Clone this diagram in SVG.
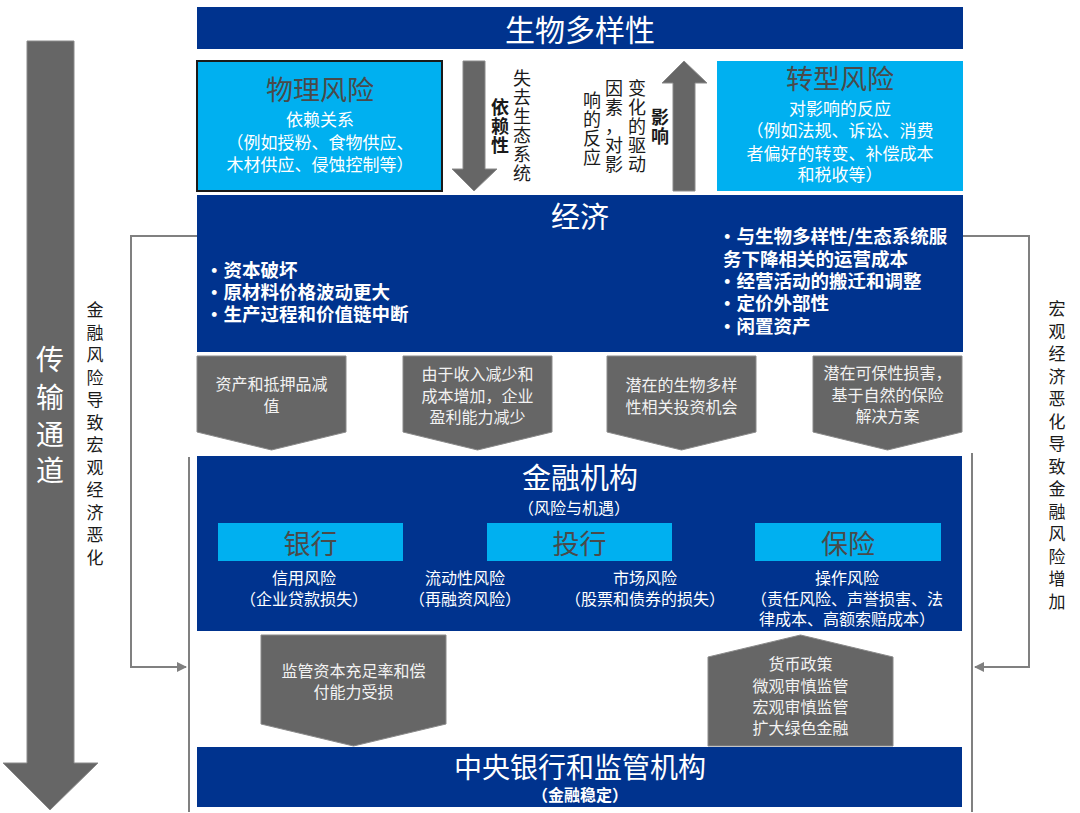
<svg xmlns="http://www.w3.org/2000/svg" width="1080" height="813" viewBox="0 0 1080 813">
<defs>
<style>
text{font-family:"Noto Sans CJK SC","Microsoft YaHei",sans-serif;dominant-baseline:central;}
.navy{fill:#00338E;}
.cyan{fill:#00B0F0;}
.gray{fill:#666666;stroke:#8a8a8a;stroke-width:1;}
.w{fill:#FFFFFF;}
.lg{fill:#F2F2F2;}
.dk{fill:#4A4A4A;}
.bk{fill:#1A1A1A;}
.c{text-anchor:middle;}
.b{font-weight:700;}
.conn{fill:none;stroke:#808080;stroke-width:2;}
</style>
<marker id="ah" viewBox="0 0 10 10" refX="9" refY="5" markerWidth="5" markerHeight="5" orient="auto" markerUnits="strokeWidth">
<path d="M0,0 L10,5 L0,10 z" fill="#808080"/>
</marker>
</defs>

<g id="channel-arrow">
<polygon class="gray" points="27,41 74,41 74,763 98,763 50,810 3,763 27,763"/>
<text class="w c" font-size="28"><tspan x="50" y="358">传</tspan><tspan x="50" y="396">输</tspan><tspan x="50" y="433">通</tspan><tspan x="50" y="469">道</tspan></text>
</g>

<g id="label-left">
<text class="bk c" font-size="17"><tspan x="95" y="308">金</tspan><tspan x="95" y="331">融</tspan><tspan x="95" y="353">风</tspan><tspan x="95" y="376">险</tspan><tspan x="95" y="398">导</tspan><tspan x="95" y="421">致</tspan><tspan x="95" y="443">宏</tspan><tspan x="95" y="466">观</tspan><tspan x="95" y="488">经</tspan><tspan x="95" y="511">济</tspan><tspan x="95" y="533">恶</tspan><tspan x="95" y="556">化</tspan></text>
</g>

<g id="label-right">
<text class="bk c" font-size="17"><tspan x="1057" y="307">宏</tspan><tspan x="1057" y="330">观</tspan><tspan x="1057" y="352">经</tspan><tspan x="1057" y="375">济</tspan><tspan x="1057" y="397">恶</tspan><tspan x="1057" y="420">化</tspan><tspan x="1057" y="442">导</tspan><tspan x="1057" y="465">致</tspan><tspan x="1057" y="487">金</tspan><tspan x="1057" y="510">融</tspan><tspan x="1057" y="532">风</tspan><tspan x="1057" y="555">险</tspan><tspan x="1057" y="577">增</tspan><tspan x="1057" y="600">加</tspan></text>
</g>

<g id="connectors">
<polyline class="conn" points="197,236 131,236 131,667 186,667" marker-end="url(#ah)"/>
<polyline class="conn" points="963,236 1029,236 1029,667 975,667" marker-end="url(#ah)"/>
<line class="conn" x1="189" y1="457" x2="189" y2="812"/>
<line class="conn" x1="972" y1="453" x2="972" y2="812"/>
</g>

<g id="biodiversity">
<rect class="navy" x="197" y="7" width="766" height="42"/>
<text class="w c" font-size="30" x="580" y="28">生物多样性</text>
</g>

<g id="physical-risk">
<rect class="cyan" x="197" y="61" width="245" height="130" stroke="#1a1a1a" stroke-width="2"/>
<text class="dk c" font-size="27" x="320" y="88">物理风险</text>
<text class="w c" font-size="17"><tspan x="320" y="118">依赖关系</tspan><tspan x="320" y="141">（例如授粉、食物供应、</tspan><tspan x="320" y="163">木材供应、侵蚀控制等）</tspan></text>
</g>

<g id="dependency-arrow">
<polygon class="gray" points="463,61 485,61 485,169 497,169 474,191 452,169 463,169"/>
<text class="bk c b" font-size="18"><tspan x="500" y="106">依</tspan><tspan x="500" y="125">赖</tspan><tspan x="500" y="144">性</tspan></text>
<text class="bk c" font-size="18"><tspan x="522" y="77">失</tspan><tspan x="522" y="96">去</tspan><tspan x="522" y="115">生</tspan><tspan x="522" y="134">态</tspan><tspan x="522" y="153">系</tspan><tspan x="522" y="172">统</tspan></text>
</g>

<g id="impact-arrow">
<polygon class="gray" points="684,61 707,83 695,83 695,191 673,191 673,83 662,83"/>
<text class="bk c b" font-size="18"><tspan x="660" y="116">影</tspan><tspan x="660" y="135">响</tspan></text>
<text class="bk c" font-size="18"><tspan x="637" y="87">变</tspan><tspan x="637" y="106">化</tspan><tspan x="637" y="125">的</tspan><tspan x="637" y="144">驱</tspan><tspan x="637" y="163">动</tspan></text>
<text class="bk c" font-size="18"><tspan x="614" y="87">因</tspan><tspan x="614" y="106">素</tspan><tspan x="614" y="125">，</tspan><tspan x="614" y="144">对</tspan><tspan x="614" y="163">影</tspan></text>
<text class="bk c" font-size="18"><tspan x="592" y="99">响</tspan><tspan x="592" y="118">的</tspan><tspan x="592" y="137">反</tspan><tspan x="592" y="156">应</tspan></text>
</g>

<g id="transition-risk">
<rect class="cyan" x="717" y="61" width="246" height="130"/>
<text class="dk c" font-size="27" x="840" y="77">转型风险</text>
<text class="w c" font-size="17"><tspan x="840" y="107">对影响的反应</tspan><tspan x="840" y="129">（例如法规、诉讼、消费</tspan><tspan x="840" y="152">者偏好的转变、补偿成本</tspan><tspan x="840" y="173">和税收等）</tspan></text>
</g>

<g id="economy">
<rect class="navy" x="197" y="195" width="766" height="157"/>
<text class="w c" font-size="29" x="580" y="215">经济</text>
<text class="w b" font-size="18.5"><tspan x="205" y="269">·资本破坏</tspan><tspan x="205" y="291">·原材料价格波动更大</tspan><tspan x="205" y="313">·生产过程和价值链中断</tspan></text>
<text class="w b" font-size="18.5"><tspan x="718" y="235">·与生物多样性/生态系统服</tspan><tspan x="723" y="258">务下降相关的运营成本</tspan><tspan x="718" y="280">·经营活动的搬迁和调整</tspan><tspan x="718" y="302">·定价外部性</tspan><tspan x="718" y="325">·闲置资产</tspan></text>
</g>

<g id="chevron-1">
<polygon class="gray" points="197,356 346,356 346,432 271.5,450 197,432"/>
<text class="lg c" font-size="16"><tspan x="271.5" y="383">资产和抵押品减</tspan><tspan x="271.5" y="405">值</tspan></text>
</g>
<g id="chevron-2">
<polygon class="gray" points="403,356 552,356 552,432 477.5,450 403,432"/>
<text class="lg c" font-size="16"><tspan x="477.5" y="373">由于收入减少和</tspan><tspan x="477.5" y="395">成本增加，企业</tspan><tspan x="477.5" y="416">盈利能力减少</tspan></text>
</g>
<g id="chevron-3">
<polygon class="gray" points="607,356 756,356 756,432 681.5,450 607,432"/>
<text class="lg c" font-size="16"><tspan x="681.5" y="384">潜在的生物多样</tspan><tspan x="681.5" y="406">性相关投资机会</tspan></text>
</g>
<g id="chevron-4">
<polygon class="gray" points="813,356 962,356 962,432 887.5,450 813,432"/>
<text class="lg c" font-size="16"><tspan x="887.5" y="372">潜在可保性损害，</tspan><tspan x="887.5" y="394">基于自然的保险</tspan><tspan x="887.5" y="415">解决方案</tspan></text>
</g>

<g id="financial-institutions">
<rect class="navy" x="197" y="456" width="765" height="175"/>
<text class="w c" font-size="29" x="580" y="476">金融机构</text>
<text class="w c" font-size="16" x="574" y="507">（风险与机遇）</text>
</g>
<g id="bank">
<rect class="cyan" x="218" y="523" width="185" height="38"/>
<text class="dk c" font-size="27" x="310.5" y="542">银行</text>
<text class="w c" font-size="16"><tspan x="304" y="577">信用风险</tspan><tspan x="304" y="598">（企业贷款损失）</tspan></text>
</g>
<g id="liquidity">
<text class="w c" font-size="16"><tspan x="465" y="577">流动性风险</tspan><tspan x="465" y="598">（再融资风险）</tspan></text>
</g>
<g id="investment-bank">
<rect class="cyan" x="487" y="523" width="185" height="38"/>
<text class="dk c" font-size="27" x="579.5" y="542">投行</text>
<text class="w c" font-size="16"><tspan x="645" y="577">市场风险</tspan><tspan x="645" y="598">（股票和债券的损失）</tspan></text>
</g>
<g id="insurance">
<rect class="cyan" x="755" y="523" width="186" height="38"/>
<text class="dk c" font-size="27" x="848" y="542">保险</text>
<text class="w c" font-size="16"><tspan x="847" y="577">操作风险</tspan><tspan x="847" y="598">（责任风险、声誉损害、法</tspan><tspan x="847" y="618">律成本、高额索赔成本）</tspan></text>
</g>

<g id="capital-impact">
<polygon class="gray" points="261,635 446,635 446,724 353.5,746 261,724"/>
<text class="lg c" font-size="16"><tspan x="353.5" y="670">监管资本充足率和偿</tspan><tspan x="353.5" y="691">付能力受损</tspan></text>
</g>

<g id="policy">
<polygon class="gray" points="708,746 708,657 800.5,635 893,657 893,746"/>
<text class="lg c" font-size="16"><tspan x="800.5" y="663">货币政策</tspan><tspan x="800.5" y="685">微观审慎监管</tspan><tspan x="800.5" y="706">宏观审慎监管</tspan><tspan x="800.5" y="727">扩大绿色金融</tspan></text>
</g>

<g id="central-bank">
<rect class="navy" x="197" y="747" width="765" height="60"/>
<text class="w c" font-size="28" x="580" y="766">中央银行和监管机构</text>
<text class="w c b" font-size="16" x="580" y="794">（金融稳定）</text>
</g>
</svg>
